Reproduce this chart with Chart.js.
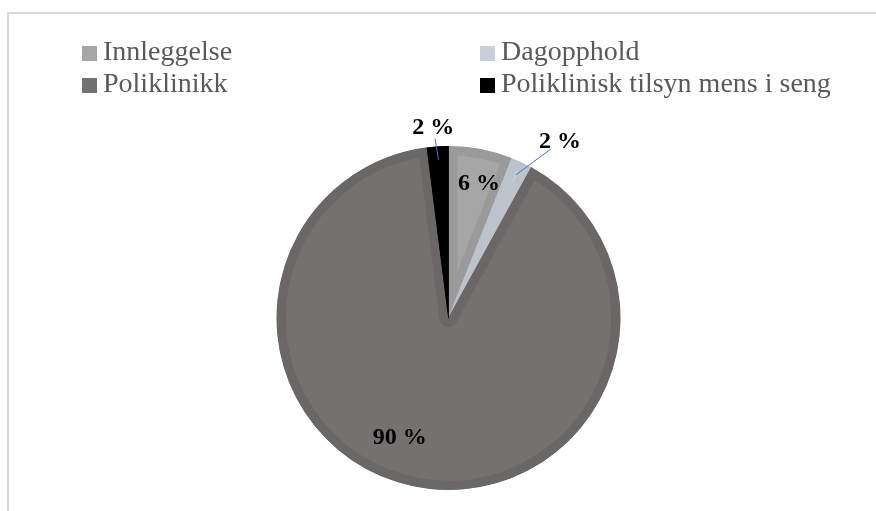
<!DOCTYPE html>
<html>
<head>
<meta charset="utf-8">
<script src="https://cdn.jsdelivr.net/npm/chart.js@4/dist/chart.umd.min.js"></script>
<style>
  html, body { margin: 0; padding: 0; background: #ffffff; }
  #wrap { position: relative; width: 876px; height: 511px; }
</style>
</head>
<body>
<div id="wrap"><canvas id="pie" width="876" height="511"></canvas></div>
<script>
// Share of contacts by type of care
const categories = ['Innleggelse', 'Dagopphold', 'Poliklinikk', 'Poliklinisk tilsyn mens i seng'];
const shares = [6, 2, 90, 2];
const valueLabels = ['6 %', '2 %', '90 %', '2 %'];

const fillColors = ['#a6a6a6', '#c9d0da', '#767171', '#000000'];
const rimColors = ['#9a9a9a', '#bcc3cd', '#6b6766', '#000000'];

// where each value label sits: radius as a fraction of the pie, turn in degrees off the slice middle
const labelSpots = [
    { r: 0.80, turn: 2 },
    { r: 1.21, turn: 7.2, leader: true },
    { r: 0.75, turn: 11.4 },
    { r: 1.11, turn: -1, leader: true }
];

const frame = {
    id: 'frame',
    beforeDraw(chart) {
        const ctx = chart.ctx;
        ctx.save();
        ctx.strokeStyle = '#d9d9d9';
        ctx.lineWidth = 2;
        ctx.beginPath();
        ctx.moveTo(8, 511);
        ctx.lineTo(8, 13);
        ctx.lineTo(876, 13);
        ctx.stroke();
        ctx.restore();
    }
};

// two column legend at the top
const gridLegend = {
    id: 'gridLegend',
    afterDraw(chart) {
        const ctx = chart.ctx;
        const cols = [82, 480];
        const rows = [53, 85];
        ctx.save();
        ctx.font = '28px "Liberation Serif", "Times New Roman", serif';
        ctx.textBaseline = 'middle';
        ctx.textAlign = 'left';
        categories.forEach(function (name, i) {
            const x = cols[i % 2];
            const y = rows[Math.floor(i / 2)];
            ctx.fillStyle = fillColors[i];
            ctx.fillRect(x, y - 7, 15, 15);
            ctx.fillStyle = '#595959';
            ctx.fillText(name, x + 21, y);
        });
        ctx.restore();
    }
};

const valueTags = {
    id: 'valueTags',
    afterDatasetsDraw(chart) {
        const ctx = chart.ctx;
        const meta = chart.getDatasetMeta(0);
        ctx.save();
        ctx.font = 'bold 24px "Liberation Serif", "Times New Roman", serif';
        ctx.textAlign = 'center';
        ctx.textBaseline = 'middle';
        meta.data.forEach(function (arc, i) {
            const spot = labelSpots[i];
            const mid = (arc.startAngle + arc.endAngle) / 2;
            const a = mid + spot.turn * Math.PI / 180;
            const lx = arc.x + Math.cos(a) * arc.outerRadius * spot.r;
            const ly = arc.y + Math.sin(a) * arc.outerRadius * spot.r;
            if (spot.leader) {
                const ex = arc.x + Math.cos(mid) * arc.outerRadius * 0.92;
                const ey = arc.y + Math.sin(mid) * arc.outerRadius * 0.92;
                const d = Math.hypot(ex - lx, ey - ly);
                ctx.strokeStyle = '#4472c4';
                ctx.lineWidth = 1;
                ctx.beginPath();
                ctx.moveTo(lx + (ex - lx) / d * 11, ly + (ey - ly) / d * 11);
                ctx.lineTo(ex, ey);
                ctx.stroke();
            }
            ctx.fillStyle = '#000000';
            ctx.fillText(valueLabels[i], lx, ly);
        });
        ctx.restore();
    }
};

new Chart(document.getElementById('pie'), {
    type: 'pie',
    data: {
        labels: categories,
        datasets: [{
            data: shares,
            backgroundColor: fillColors,
            borderColor: rimColors,
            borderWidth: 9,
            borderAlign: 'inner',
            hoverOffset: 0,
            offset: 0
        }]
    },
    options: {
        responsive: false,
        animation: false,
        radius: 172,
        layout: {
            padding: { left: 21, right: 0, top: 146, bottom: 21 }
        },
        plugins: {
            legend: { display: false },
            tooltip: { enabled: false }
        }
    },
    plugins: [frame, gridLegend, valueTags]
});
</script>
</body>
</html>
